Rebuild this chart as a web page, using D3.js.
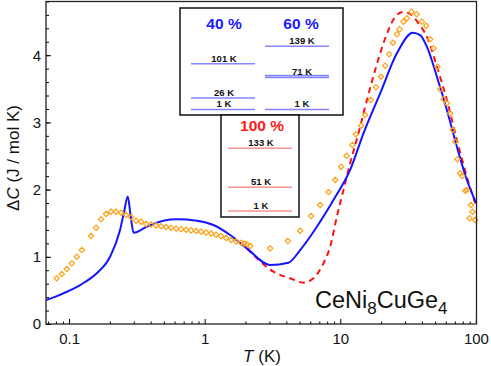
<!DOCTYPE html>
<html lang="en">
<head>
<meta charset="UTF-8">
<title>CeNi8CuGe4 specific heat</title>
<script src="https://d3js.org/d3.v7.min.js"></script>
<style>
  body { margin: 0; background: #fff; }
  svg { display: block; font-family: "Liberation Sans", Arial, Helvetica, sans-serif; }
</style>
</head>
<body>
<svg width="491" height="366"></svg>
<script>
// calculated curve (solid blue)
const blueT = [0.0677, 0.0908, 0.1206, 0.160, 0.2006, 0.2377, 0.2544, 0.271, 0.284, 0.299, 0.374, 0.496, 0.6226, 0.875, 1.16, 1.54, 2.046, 3.04, 4.146, 5.06, 6.72, 8.90, 11.82, 14.82, 19.68, 26.14, 34.29, 38.8, 43.5, 51.6, 61.1, 72.4, 85.8, 100.5];
const blueC = [0.357, 0.457, 0.580, 0.754, 1.0, 1.399, 1.667, 1.897, 1.62, 1.359, 1.448, 1.537, 1.558, 1.537, 1.473, 1.324, 1.126, 0.878, 0.912, 1.101, 1.448, 1.845, 2.292, 2.838, 3.433, 4.028, 4.335, 4.30, 4.127, 3.68, 3.185, 2.638, 2.143, 1.796];

// calculated curve (dashed red)
const redT = [2.046, 2.424, 3.214, 4.266, 5.35, 6.34, 7.51, 8.42, 9.43, 10.55, 11.82, 13.61, 15.26, 17.09, 19.68, 22.65, 25.39, 29.1, 32.7, 37.7, 43.5, 51.6, 61.1, 72.4, 85.8, 98.8];
const redC = [1.126, 0.978, 0.778, 0.680, 0.615, 0.680, 0.903, 1.15, 1.597, 1.994, 2.391, 2.838, 3.234, 3.606, 4.028, 4.375, 4.57, 4.643, 4.613, 4.475, 4.275, 3.83, 3.333, 2.738, 2.19, 1.796];

// measured points (orange diamonds)
const obsT = [0.0811, 0.0884, 0.0962, 0.1047, 0.1140, 0.1241, 0.1453, 0.1582, 0.1722, 0.1875, 0.2041, 0.2222, 0.2418, 0.2633, 0.2866, 0.3119, 0.3396, 0.3698,
  0.4026, 0.4382, 0.4772, 0.5194, 0.5655, 0.6157, 0.6702, 0.7295, 0.7942, 0.8647, 0.9412, 1.025, 1.115, 1.214, 1.322, 1.439, 1.567, 1.705, 1.857, 1.954, 2.056, 2.163,
  3.04, 4.104, 5.057, 6.095, 7.10, 8.178, 9.165, 10.15, 11.12, 12.29, 13.02, 14.25, 15.26, 16.80, 18.30, 19.92, 21.42, 22.93, 24.42, 26.14, 27.32, 29.24, 30.97, 33.48,
  36.59, 39.96, 42.99, 46.01, 48.67, 52.1, 54.5, 57.7, 61.1, 64.6, 67.6, 70.4, 73.1, 76.6, 79.2, 83.4, 85.8, 89.7, 91.8, 94.4, 98.8];
const obsC = [0.680, 0.744, 0.818, 0.903, 1.0, 1.101, 1.310, 1.433, 1.558, 1.637, 1.671, 1.671, 1.656, 1.622, 1.588, 1.537, 1.522, 1.488,
  1.481, 1.466, 1.454, 1.443, 1.432, 1.421, 1.411, 1.402, 1.393, 1.384, 1.374, 1.362, 1.347, 1.329, 1.307, 1.280, 1.250, 1.228, 1.208, 1.198, 1.183, 1.161,
  1.126, 1.235, 1.388, 1.607, 1.771, 1.964, 2.143, 2.341, 2.503, 2.664, 2.823, 2.951, 3.110, 3.333, 3.522, 3.680, 3.844, 4.013, 4.186, 4.311, 4.385, 4.499, 4.549, 4.647,
  4.609, 4.499, 4.439, 4.237, 4.103, 3.829, 3.493, 3.344, 3.284, 3.135, 2.887, 2.713, 2.451, 2.243, 2.202, 1.984, 1.994, 1.573, 1.771, 1.671, 1.548];

const xTicks = [0.1, 1, 10, 100];
const xTickLabels = ["0.1", "1", "10", "100"];
const yTicks = [0, 1, 2, 3, 4];

// crystal field levels (K) for the insets
const lev40 = [1, 26, 101];
const lev60 = [1, 71, 75, 139];
const lev60Labels = [1, 71, 139];
const lev100 = [1, 51, 133];

const svg = d3.select("svg");

const x = d3.scaleLog().domain([0.0676, 101]).range([46, 476.5]);
const y = d3.scaleLinear().domain([0, 4.8]).range([324, 1.44]);

// minor ticks
const xMinor = [];
for (let e = -2; e <= 1; e++) {
  for (let k = 2; k <= 9; k++) {
    const v = k * Math.pow(10, e);
    if (v > 0.0676 && v < 101) xMinor.push(v);
  }
}
const yMinor = d3.range(0, 4.81, 0.2);

svg.append("g")
   .attr("transform", "translate(0,324)")
   .call(d3.axisBottom(x).tickValues(xMinor).tickSize(-2.5).tickFormat(""))
   .call(g => g.select(".domain").remove());

svg.append("g")
   .attr("transform", "translate(46,0)")
   .call(d3.axisLeft(y).tickValues(yMinor).tickSize(-3).tickFormat(""))
   .call(g => g.select(".domain").remove());

const xAxis = svg.append("g")
   .attr("transform", "translate(0,324)")
   .call(d3.axisBottom(x).tickValues(xTicks).tickSize(-5).tickPadding(9).tickFormat((d, i) => xTickLabels[i]));
xAxis.select(".domain").remove();

const yAxis = svg.append("g")
   .attr("transform", "translate(46,0)")
   .call(d3.axisLeft(y).tickValues(yTicks).tickSize(-5).tickPadding(5).tickFormat(d3.format("d")));
yAxis.select(".domain").remove();

svg.selectAll(".tick line").attr("stroke", "#000").attr("stroke-width", 1);
[xAxis, yAxis].forEach(g => g.attr("font-family", null).attr("font-size", 15)
   .selectAll("text").attr("fill", "#111"));

// curves
svg.append("clipPath").attr("id", "plotclip")
   .append("rect").attr("x", 46).attr("y", 1.5).attr("width", 430.5).attr("height", 322.5);

const line = d3.line()
   .x(d => x(d[0]))
   .y(d => y(d[1]))
   .curve(d3.curveMonotoneX);

svg.append("path")
   .datum(redT.map((t, i) => [t, redC[i]]))
   .attr("clip-path", "url(#plotclip)")
   .attr("fill", "none")
   .attr("stroke", "#ff1010")
   .attr("stroke-width", 2)
   .attr("stroke-dasharray", "6,4.5")
   .attr("d", line);

svg.append("path")
   .datum(blueT.map((t, i) => [t, blueC[i]]))
   .attr("clip-path", "url(#plotclip)")
   .attr("fill", "none")
   .attr("stroke", "#1414ff")
   .attr("stroke-width", 2)
   .attr("d", line);

svg.append("g")
   .selectAll("path")
   .data(obsT.map((t, i) => [t, obsC[i]]))
   .join("path")
   .attr("transform", d => `translate(${x(d[0])},${y(d[1])})`)
   .attr("d", "M0,-2.7L2.7,0L0,2.7L-2.7,0Z")
   .attr("fill", "none")
   .attr("stroke", "#ffa21a")
   .attr("stroke-width", 1.2);

// frame
svg.append("rect")
   .attr("x", 46).attr("y", 1.5).attr("width", 430.5).attr("height", 322.5)
   .attr("fill", "none").attr("stroke", "#222").attr("stroke-width", 1.3);

// axis labels
const yl = svg.append("text")
   .attr("transform", "translate(19,158) rotate(-90)")
   .attr("text-anchor", "middle")
   .attr("font-size", 17)
   .attr("fill", "#111");
yl.append("tspan").text("\u0394");
yl.append("tspan").attr("font-style", "italic").text("C");
yl.append("tspan").text(" (J / mol K)");

const xl = svg.append("text")
   .attr("x", 262).attr("y", 362)
   .attr("text-anchor", "middle")
   .attr("font-size", 17)
   .attr("fill", "#111");
xl.append("tspan").attr("font-style", "italic").text("T");
xl.append("tspan").text(" (K)");

// compound name
const cn = svg.append("text")
   .attr("x", 315).attr("y", 308)
   .attr("font-size", 23.5)
   .attr("fill", "#111");
cn.append("tspan").text("CeNi");
cn.append("tspan").attr("font-size", 17).attr("dy", 6).text("8");
cn.append("tspan").attr("dy", -6).text("CuGe");
cn.append("tspan").attr("font-size", 17).attr("dy", 6).text("4");

// inset: level schemes
const upper = svg.append("g");
upper.append("rect")
   .attr("x", 180).attr("y", 8).attr("width", 163).attr("height", 107)
   .attr("fill", "#fff").attr("stroke", "#111").attr("stroke-width", 1.5);

const lower = svg.append("g");
lower.append("rect")
   .attr("x", 221).attr("y", 115).attr("width", 78).attr("height", 102)
   .attr("fill", "#fff").attr("stroke", "#111").attr("stroke-width", 1.5);

const eUp = d3.scaleLinear().domain([1, 139]).range([109.5, 46.3]);
const eLow = d3.scaleLinear().domain([1, 133]).range([211, 148.3]);

function drawLevels(g, levels, labels, scale, x0, x1, xLab, color) {
  g.selectAll(null)
   .data(levels)
   .join("line")
   .attr("x1", x0).attr("x2", x1)
   .attr("y1", d => scale(d)).attr("y2", d => scale(d))
   .attr("stroke", color).attr("stroke-width", 1.6);
  g.selectAll(null)
   .data(labels)
   .join("text")
   .attr("x", xLab)
   .attr("y", d => scale(d) - 2.2)
   .attr("text-anchor", "middle")
   .attr("font-size", 9.5)
   .attr("font-weight", "bold")
   .attr("fill", "#111")
   .text(d => d + " K");
}

drawLevels(upper, lev40, lev40, eUp, 191, 255, 224, "#8585ff");
drawLevels(upper, lev60, lev60Labels, eUp, 265, 329, 302, "#8585ff");
drawLevels(lower, lev100, lev100, eLow, 228, 292, 261, "#ff9090");

upper.append("text").attr("x", 224).attr("y", 29)
   .attr("text-anchor", "middle").attr("font-size", 15.5).attr("font-weight", "bold")
   .attr("fill", "#1a1aff").text("40 %");
upper.append("text").attr("x", 301).attr("y", 29)
   .attr("text-anchor", "middle").attr("font-size", 15.5).attr("font-weight", "bold")
   .attr("fill", "#1a1aff").text("60 %");
lower.append("text").attr("x", 262).attr("y", 131)
   .attr("text-anchor", "middle").attr("font-size", 15.5).attr("font-weight", "bold")
   .attr("fill", "#ff1a1a").text("100 %");
</script>
</body>
</html>
